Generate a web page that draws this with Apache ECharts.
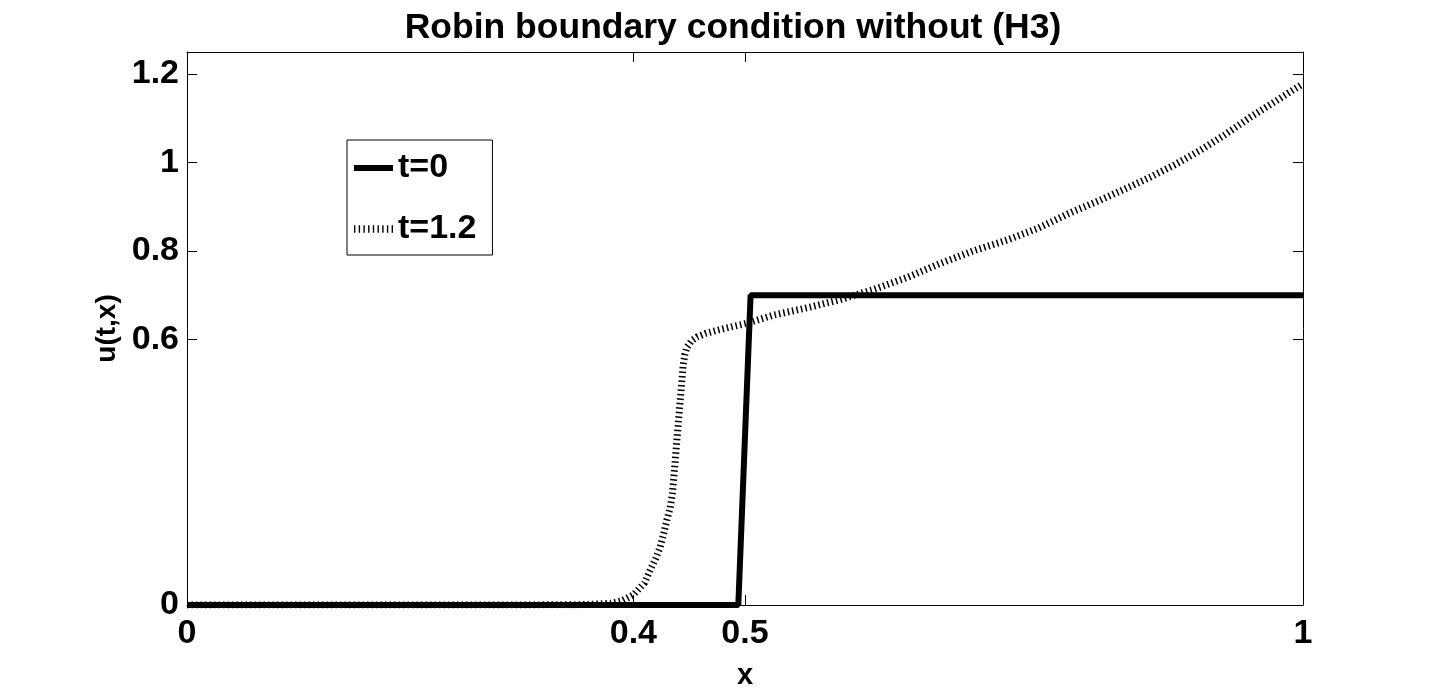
<!DOCTYPE html>
<html>
<head>
<meta charset="utf-8">
<title>Robin boundary condition without (H3)</title>
<script src="https://cdn.jsdelivr.net/npm/echarts@6/dist/echarts.min.js"></script>
<style>
  html, body { margin: 0; padding: 0; background: #fff; }
  #chart { width: 1440px; height: 691px; }
</style>
</head>
<body>
<div id="chart"></div>
<script>
// t=0 : step profile
const xT0 = [0, 0.494, 0.505, 1]
const yT0 = [0, 0, 0.7, 0.7]

// t=1.2 : smoothed front
const xT12 = [0, 0.1, 0.2, 0.3, 0.36, 0.38, 0.39, 0.4, 0.41, 0.415, 0.42, 0.424, 0.427, 0.43, 0.433, 0.435,
  0.437, 0.439, 0.441, 0.443, 0.4445, 0.446, 0.448, 0.452, 0.457, 0.465, 0.475, 0.49, 0.502, 0.525,
  0.556, 0.585, 0.615, 0.645, 0.675, 0.704, 0.735, 0.763, 0.79, 0.818, 0.84, 0.863, 0.885, 0.908,
  0.93, 0.953, 0.975, 0.991, 1]
const yT12 = [0, 0, 0, 0, 0.001, 0.004, 0.01, 0.023, 0.05, 0.079, 0.105, 0.131, 0.16, 0.192, 0.22, 0.253,
  0.312, 0.373, 0.434, 0.493, 0.54, 0.565, 0.583, 0.597, 0.606, 0.614, 0.621, 0.63, 0.637, 0.655,
  0.672, 0.69, 0.713, 0.74, 0.772, 0.8, 0.825, 0.852, 0.885, 0.915, 0.94, 0.967, 0.995, 1.028,
  1.063, 1.103, 1.138, 1.164, 1.178]

const xTicks = [0, 0.4, 0.5, 1]
const yTicks = [0, 0.6, 0.8, 1, 1.2]

const font = 'Liberation Sans, Arial, Helvetica, sans-serif'

// legend glyphs: thick bar, and a row of short upright dashes
const solidIcon = 'path://M0,0h40v6h-40z'
let dotPath = ''
for (let i = 0; i < 9; i++) {
  dotPath += 'M' + (i * 4.4) + ',0h1.3v7h-1.3z'
}
const dottedIcon = 'path://' + dotPath

const chart = echarts.init(document.getElementById('chart'))

function pairs(xs, ys) {
  return xs.map((x, i) => [x, ys[i]])
}

const axisBase = {
  type: 'value',
  axisLine: { show: true, onZero: false, lineStyle: { color: '#000', width: 1 } },
  axisTick: { show: true, inside: true, length: 10, lineStyle: { color: '#000', width: 1 } },
  splitLine: { show: false }
}

chart.setOption({
  animation: false,
  backgroundColor: '#fff',
  title: {
    text: 'Robin boundary condition without (H3)',
    left: 728,
    textAlign: 'center',
    top: 5,
    textStyle: { fontFamily: font, fontSize: 35.5, fontWeight: 'bold', color: '#000' }
  },
  grid: { left: 187, right: 137, top: 52, bottom: 86, containLabel: false, outerBoundsMode: 'none' },
  legend: {
    orient: 'vertical',
    left: 347,
    top: 140,
    padding: [8, 16, 6, 7],
    itemGap: 21,
    itemWidth: 39,
    backgroundColor: '#fff',
    borderColor: '#000',
    borderWidth: 1,
    borderRadius: 0,
    textStyle: { fontFamily: font, fontSize: 34, fontWeight: 'bold', color: '#000', lineHeight: 40 },
    data: [
      { name: 't=0', icon: solidIcon, itemStyle: { color: '#000' } },
      { name: 't=1.2', icon: dottedIcon, itemStyle: { color: '#000' } }
    ]
  },
  xAxis: [
    Object.assign({}, axisBase, {
      position: 'bottom',
      min: 0, max: 1,
      name: 'x',
      nameLocation: 'middle',
      nameGap: 56,
      nameTextStyle: { fontFamily: font, fontSize: 29, fontWeight: 'bold', color: '#000' },
      axisTick: Object.assign({}, axisBase.axisTick, { customValues: xTicks }),
      axisLabel: {
        customValues: xTicks,
        margin: 12,
        fontFamily: font, fontSize: 34, fontWeight: 'bold', color: '#000'
      }
    }),
    Object.assign({}, axisBase, {
      position: 'top',
      min: 0, max: 1,
      axisTick: Object.assign({}, axisBase.axisTick, { customValues: xTicks }),
      axisLabel: { show: false }
    })
  ],
  yAxis: [
    Object.assign({}, axisBase, {
      position: 'left',
      min: 0, max: 1.25,
      name: 'u(t,x)',
      nameLocation: 'middle',
      nameRotate: 90,
      nameGap: 64,
      nameTextStyle: { fontFamily: font, fontSize: 28, fontWeight: 'bold', color: '#000' },
      axisTick: Object.assign({}, axisBase.axisTick, { customValues: yTicks }),
      axisLabel: {
        customValues: yTicks,
        margin: 8,
        fontFamily: font, fontSize: 34, fontWeight: 'bold', color: '#000'
      }
    }),
    Object.assign({}, axisBase, {
      position: 'right',
      min: 0, max: 1.25,
      axisTick: Object.assign({}, axisBase.axisTick, { customValues: yTicks }),
      axisLabel: { show: false }
    })
  ],
  series: [
    {
      name: 't=0',
      type: 'line',
      symbol: 'none',
      data: pairs(xT0, yT0),
      lineStyle: { color: '#000', width: 6 },
      itemStyle: { color: '#000' },
      z: 3
    },
    {
      name: 't=1.2',
      type: 'line',
      symbol: 'none',
      data: pairs(xT12, yT12),
      lineStyle: { color: '#000', width: 7, type: [1.5, 3], cap: 'butt' },
      itemStyle: { color: '#000' },
      z: 2
    }
  ]
})
</script>
</body>
</html>
